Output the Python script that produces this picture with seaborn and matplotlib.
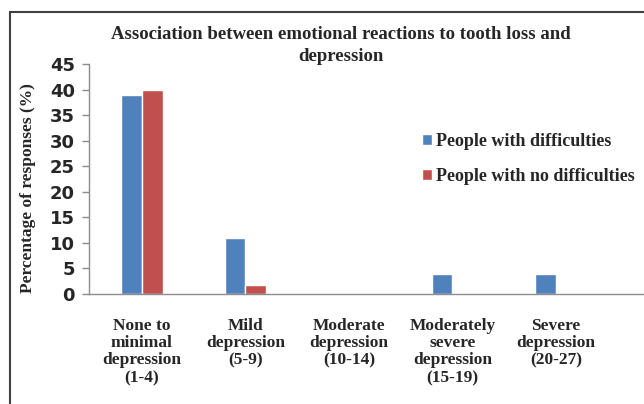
import pandas as pd
import seaborn as sns
import matplotlib.pyplot as plt
from matplotlib.patches import Rectangle

categorias = ['None to\nminimal\ndepression\n(1-4)', 'Mild\ndepression\n(5-9)',
              'Moderate\ndepression\n(10-14)', 'Moderately\nsevere\ndepression\n(15-19)',
              'Severe\ndepression\n(20-27)']
com_dificuldades = [39, 11, 0, 4, 4]
sem_dificuldades = [40, 1.8, 0, 0, 0]
grupos = ['People with difficulties', 'People with no difficulties']
cores = ['#4F81BD', '#C0504D']

dados = pd.DataFrame({
    'categoria': categorias * 2,
    'valor': com_dificuldades + sem_dificuldades,
    'grupo': [grupos[0]] * 5 + [grupos[1]] * 5,
})

sns.set_style('white')
plt.rcParams['font.family'] = ['Liberation Serif', 'DejaVu Serif']

fig = plt.figure(figsize=(6.44, 4.04), dpi=100)
ax = fig.add_axes([89 / 644, 110 / 404, 1 - 89 / 644, 230 / 404])

sns.barplot(data=dados, x='categoria', y='valor', hue='grupo', palette=cores,
            width=0.4, gap=0, saturation=1, ax=ax, legend=True)

ax.set_xlim(-0.51, 4.85)
ax.set_ylim(0, 45)
ax.set_yticks(range(0, 46, 5))
ax.set_xlabel('')
ax.set_ylabel('Percentage of responses (%)', fontsize=12.5, fontweight='bold', labelpad=8)
ax.yaxis.set_label_coords(-0.095, 0.46)
ax.tick_params(axis='y', length=5, width=1, color='#8c8c8c', left=True, pad=5)
ax.tick_params(axis='x', length=0, pad=17)
for lbl in ax.get_yticklabels():
    lbl.set_family(['Liberation Sans Narrow', 'DejaVu Sans'])
    lbl.set_fontweight('bold')
    lbl.set_fontsize(13)
for lbl in ax.get_xticklabels():
    lbl.set_fontweight('bold')
    lbl.set_fontsize(12.5)
    lbl.set_linespacing(1.12)

for lado in ['top', 'right']:
    ax.spines[lado].set_visible(False)
for lado in ['left', 'bottom']:
    ax.spines[lado].set_color('#8c8c8c')
    ax.spines[lado].set_linewidth(1)

leg = ax.legend(loc='upper left', bbox_to_anchor=(0.57, 0.77), frameon=False,
                prop={'weight': 'bold', 'size': 13}, handlelength=0.55, handleheight=0.55,
                handletextpad=0.25, labelspacing=1.0)

fig.text(0.53, 0.935, 'Association between emotional reactions to tooth loss and\ndepression',
         ha='center', va='top', fontsize=13.5, fontweight='bold', linespacing=1.4)

fig.patches.append(Rectangle((10 / 644, -0.1), 1.2, (404 - 12) / 404 + 0.1,
                             transform=fig.transFigure, fill=False,
                             edgecolor='#404040', linewidth=1.5))

plt.savefig('out.png', dpi=100)
